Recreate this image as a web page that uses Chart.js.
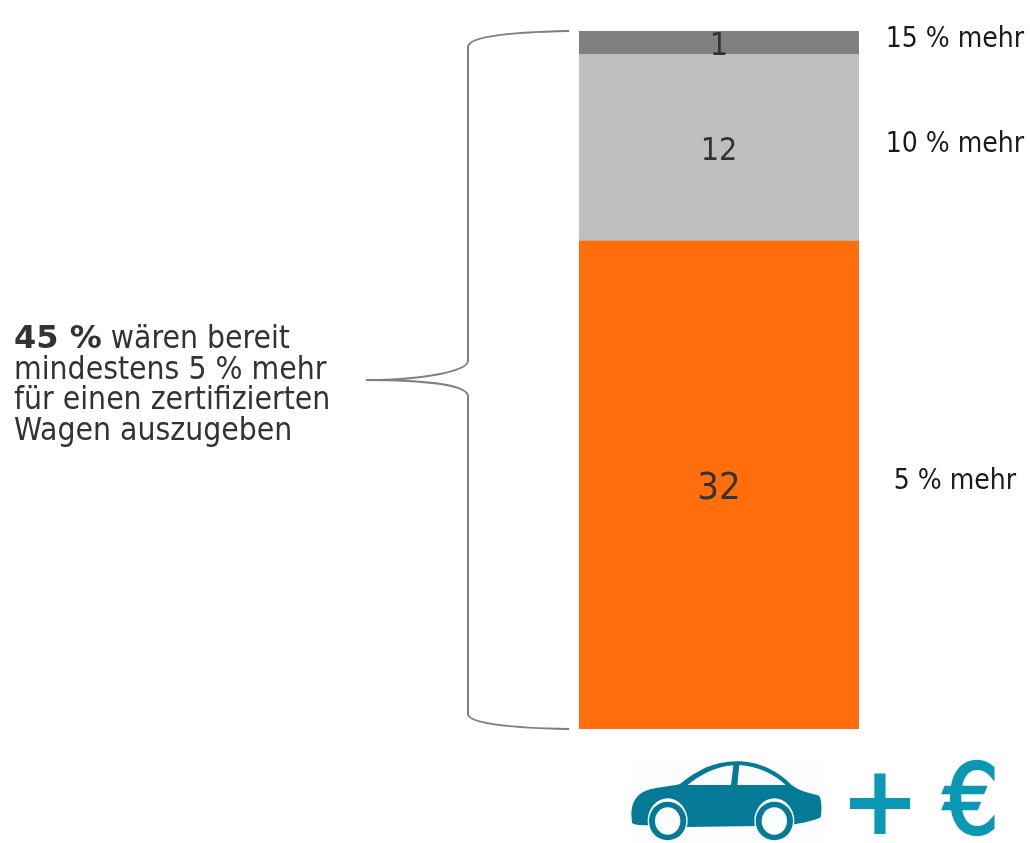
<!DOCTYPE html>
<html>
<head>
<meta charset="utf-8">
<script src="https://cdn.jsdelivr.net/npm/chart.js@4/dist/chart.umd.min.js"></script>
<style>
  html, body { margin: 0; padding: 0; background: #fff; }
  #wrap { position: relative; width: 1030px; height: 843px; }
</style>
</head>
<body>
<div id="wrap"><canvas id="chart"></canvas></div>
<script>
const categories = ['Zertifizierter Wagen'];
const seriesNames = ['5 % mehr', '10 % mehr', '15 % mehr'];
const seriesValues = [31.45, 12.05, 1.5];
const valueLabels = ['32', '12', '1'];
const seriesColors = ['#ff6d0d', '#bfbfbf', '#808080'];
const calloutBold = '45 %';
const calloutLines = [' wären bereit', 'mindestens 5 % mehr', 'für einen zertifizierten', 'Wagen auszugeben'];

const FONT = '"DejaVu Sans"';

function drawBrace(ctx) {
  ctx.save();
  ctx.strokeStyle = '#808080';
  ctx.lineWidth = 2;
  ctx.beginPath();
  ctx.moveTo(569, 31);
  ctx.bezierCurveTo(515, 32, 468, 36, 468, 47);
  ctx.lineTo(468, 361);
  ctx.bezierCurveTo(467, 371, 425, 380, 366, 380);
  ctx.bezierCurveTo(425, 380, 467, 385, 468, 396);
  ctx.lineTo(468, 714);
  ctx.bezierCurveTo(468, 724, 515, 728, 569, 729);
  ctx.stroke();
  ctx.restore();
}

function drawCar(ctx) {
  ctx.save();
  // traced in a 3x crop starting at 620,740
  ctx.translate(620, 740);
  ctx.scale(1 / 3, 1 / 3);
  ctx.fillStyle = '#fafcfd';
  ctx.fillRect(33, 63, 573, 246);
  ctx.fillStyle = '#047a96';
  ctx.beginPath();
  ctx.moveTo(34, 220);
  ctx.bezierCurveTo(36, 180, 55, 158, 90, 148);
  ctx.bezierCurveTo(120, 140, 160, 138, 180, 132);
  ctx.bezierCurveTo(230, 92, 280, 64, 350, 64);
  ctx.bezierCurveTo(420, 64, 475, 95, 515, 135);
  ctx.bezierCurveTo(540, 155, 575, 160, 597, 167);
  ctx.bezierCurveTo(606, 180, 606, 215, 602, 232);
  ctx.bezierCurveTo(585, 242, 550, 248, 525, 253);
  ctx.lineTo(415, 258);
  ctx.lineTo(197, 261);
  ctx.lineTo(85, 256);
  ctx.bezierCurveTo(60, 256, 40, 254, 36, 248);
  ctx.closePath();
  ctx.fill();
  // windows
  ctx.fillStyle = '#fafcfd';
  ctx.beginPath();
  ctx.moveTo(203, 135);
  ctx.bezierCurveTo(240, 105, 285, 80, 340, 76);
  ctx.lineTo(333, 135);
  ctx.closePath();
  ctx.fill();
  ctx.beginPath();
  ctx.moveTo(352, 135);
  ctx.lineTo(358, 75);
  ctx.bezierCurveTo(410, 78, 460, 100, 497, 135);
  ctx.closePath();
  ctx.fill();
  // wheels
  [143, 463].forEach((cx) => {
    ctx.fillStyle = '#fafcfd';
    ctx.beginPath();
    ctx.ellipse(cx, 243, 60, 68, 0, 0, Math.PI * 2);
    ctx.fill();
    ctx.fillStyle = '#047a96';
    ctx.beginPath();
    ctx.ellipse(cx, 243, 56, 58, 0, 0, Math.PI * 2);
    ctx.fill();
    ctx.fillStyle = '#fafcfd';
    ctx.beginPath();
    ctx.ellipse(cx, 243, 38, 41, 0, 0, Math.PI * 2);
    ctx.fill();
  });
  ctx.restore();
}

const annotations = {
  id: 'annotations',
  afterDatasetsDraw(chart) {
    const { ctx } = chart;
    ctx.save();
    ctx.textBaseline = 'alphabetic';

    // values inside the bar and names on the right
    chart.data.datasets.forEach((ds, i) => {
      const bar = chart.getDatasetMeta(i).data[0];
      const mid = (bar.y + bar.base) / 2;
      ctx.textAlign = 'center';
      ctx.fillStyle = '#333333';
      ctx.font = `condensed ${i === 0 ? 38 : 32}px ${FONT}`;
      ctx.fillText(valueLabels[i], bar.x, mid + (i === 0 ? 14 : 12));
      ctx.fillStyle = '#1a1a1a';
      ctx.font = `condensed 28px ${FONT}`;
      ctx.fillText(ds.label, 955, mid + 4);
    });

    // callout
    ctx.textAlign = 'left';
    ctx.fillStyle = '#333333';
    ctx.font = `bold 32px ${FONT}`;
    ctx.fillText(calloutBold, 14, 348);
    const boldWidth = ctx.measureText(calloutBold).width;
    ctx.font = `condensed 31.6px ${FONT}`;
    calloutLines.forEach((line, i) => {
      ctx.fillText(line, i === 0 ? 14 + boldWidth : 14, 348 + i * 30.6);
    });

    drawBrace(ctx);
    drawCar(ctx);

    // plus and euro
    ctx.fillStyle = '#0b98b5';
    ctx.strokeStyle = '#0b98b5';
    ctx.textAlign = 'center';
    ctx.font = `bold 96px ${FONT}`;
    ctx.fillText('+', 880, 834);
    ctx.font = `condensed 98px ${FONT}`;
    ctx.lineWidth = 2.5;
    ctx.fillText('€', 971, 834);
    ctx.strokeText('€', 971, 834);
    ctx.restore();
  },
};

new Chart(document.getElementById('chart'), {
  type: 'bar',
  data: {
    labels: categories,
    datasets: seriesNames.map((name, i) => ({
      label: name,
      data: [seriesValues[i]],
      backgroundColor: seriesColors[i],
      borderWidth: 0,
      barPercentage: 1,
      categoryPercentage: 1,
    })),
  },
  options: {
    responsive: true,
    maintainAspectRatio: false,
    animation: false,
    layout: { padding: { left: 579, right: 171, top: 31, bottom: 114 } },
    plugins: { legend: { display: false }, tooltip: { enabled: false } },
    scales: {
      x: { stacked: true, display: false },
      y: { stacked: true, display: false, min: 0, max: 45 },
    },
  },
  plugins: [annotations],
});
</script>
</body>
</html>
